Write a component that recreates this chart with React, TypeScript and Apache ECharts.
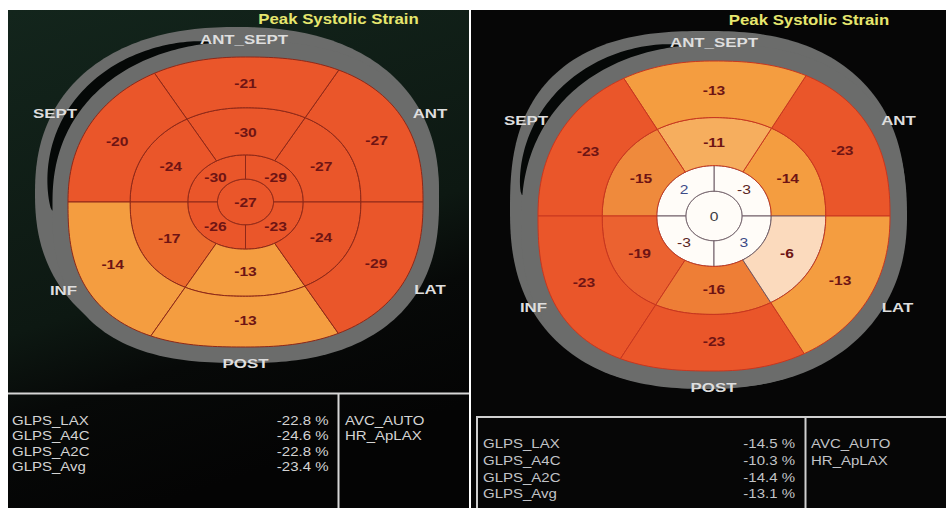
import React, { useEffect, useRef } from "react";
import * as echarts from "echarts";

// ---- data (segment order: basal/mid at 30°,90°,150°,210°,270°,330°; apical at 45°,135°,225°,315°) ----
const leftBasal = [-27, -21, -20, -14, -13, -29];
const leftMid = [-27, -30, -24, -17, -13, -24];
const leftApical = [-29, -30, -26, -23];
const leftApex = [-27];
const rightBasal = [-23, -13, -23, -23, -23, -13];
const rightMid = [-14, -11, -15, -19, -16, -6];
const rightApical = [-3, 2, -3, 3];
const rightApex = [0];

const chartTitle = "Peak Systolic Strain";
const wallLabels = ["ANT_SEPT", "SEPT", "ANT", "INF", "LAT", "POST"];
const glpsNames = ["GLPS_LAX", "GLPS_A4C", "GLPS_A2C", "GLPS_Avg"];
const leftGlps = [-22.8, -24.6, -22.8, -23.4];
const rightGlps = [-14.5, -10.3, -14.4, -13.1];
const sideNotes = ["AVC_AUTO", "HR_ApLAX"];

const FONT = '"Liberation Sans", Arial, sans-serif';

type Shape = { cx: number; cy: number; rx: number; ry: number; nq: number[] };
type Geo = Shape & {
  fr: number[];
  o: Shape;
  base: number;
  luneFrom: number; luneTo: number; lunePeak: number;
  stroke: string; lightStroke: string;
  labelPos: number[][];
};

const geoL: Geo = {
  cx: 245.5, cy: 202, rx: 177.5, ry: 145, nq: [2.45, 2.2, 2.65, 2.4],
  fr: [0.158, 0.325, 0.65, 1],
  o: { cx: 237, cy: 193.5, rx: 202, ry: 166.5, nq: [2.3, 2.3, 2.3, 2.3] },
  base: 16, luneFrom: 100, luneTo: 183, lunePeak: 10,
  stroke: "#8e2818", lightStroke: "#6e5c66",
  labelPos: [[244, 39], [55, 113.5], [430, 113], [63.5, 290.5], [430, 289], [245.5, 363.5]],
};
const geoR: Geo = {
  cx: 714, cy: 216, rx: 176, ry: 155, nq: [2.4, 2.2, 2.6, 2.2],
  fr: [0.16, 0.325, 0.635, 1],
  o: { cx: 708, cy: 210, rx: 198, ry: 179, nq: [2.4, 2.6, 2.4, 2.2] },
  base: 17, luneFrom: 100, luneTo: 173, lunePeak: 10,
  stroke: "#c8361f", lightStroke: "#6e5c66",
  labelPos: [[714, 42], [526, 120.5], [898.5, 120], [533.5, 307.5], [897.5, 307], [713.5, 387.5]],
};
const ringN = [0, 0.2, 0.6, 1];

function rows(apex: number[], apical: number[], mid: number[], basal: number[]) {
  const out: number[][] = [];
  apex.forEach((v, k) => out.push([0, k, v]));
  apical.forEach((v, k) => out.push([1, k, v]));
  mid.forEach((v, k) => out.push([2, k, v]));
  basal.forEach((v, k) => out.push([3, k, v]));
  return out;
}

function nAt(nq: number[], deg: number, f: number): number {
  const a = ((deg % 360) + 360) % 360;
  const q = Math.min(3, Math.floor(a / 90));
  return 2 + (nq[q] - 2) * f;
}
function unit(deg: number, n: number): [number, number] {
  const t = (deg * Math.PI) / 180;
  const c = Math.cos(t), s = Math.sin(t);
  const d = Math.pow(Math.pow(Math.abs(c), n) + Math.pow(Math.abs(s), n), 1 / n);
  return [c / d, s / d];
}
function edge(sh: Shape, frac: number, deg: number, f: number, extra = 0): number[] {
  const [ux, uy] = unit(deg, nAt(sh.nq, deg, f));
  return [sh.cx + (sh.rx * frac + extra) * ux, sh.cy - (sh.ry * frac + extra) * uy];
}

function makeRender(g: Geo) {
  return (_params: any, api: any) => {
    const ring = api.value(0), k = api.value(1), v = api.value(2);
    const count = [1, 4, 6, 6][ring];
    const span = 360 / count;
    const a0 = k * span, a1 = a0 + span;
    const fo = g.fr[ring], no = ringN[ring];
    const fi = ring > 0 ? g.fr[ring - 1] : 0, ni = ring > 0 ? ringN[ring - 1] : 0;
    const steps = Math.max(16, Math.round(span / 1.5));
    const pts: number[][] = [];
    for (let i = 0; i <= steps; i++) pts.push(edge(g, fo, a0 + (span * i) / steps, no));
    if (ring > 0) for (let i = steps; i >= 0; i--) pts.push(edge(g, fi, a0 + (span * i) / steps, ni));
    const light = v > -9;
    const midA = (a0 + a1) / 2;
    const lf = fi + (fo - fi) * 0.48;
    const lp = ring === 0 ? [g.cx, g.cy] : edge(g, lf, midA, (no + ni) / 2);
    const fill = v > 0 ? "#3d4a86" : v === 0 ? "#3c3c42" : v > -5 ? "#5a2424" : "#6e1414";
    const weight = v > -5 ? "normal" : "bold";
    return {
      type: "group",
      children: [
        {
          type: "polygon",
          shape: { points: pts },
          style: { fill: api.visual("color"), stroke: light ? g.lightStroke : g.stroke, lineWidth: 1 },
        },
        {
          type: "text",
          x: lp[0], y: lp[1], scaleX: 1.2, z2: 10,
          style: { text: String(v), fill, font: `${weight} 13px ${FONT}`, align: "center", verticalAlign: "middle" },
        },
      ],
    };
  };
}

function frame(g: Geo): any[] {
  const outer: number[][] = [];
  const band: number[][] = [];
  for (let a = 0; a < 360; a += 1.5) {
    outer.push(edge(g.o, 1, a, 1));
    band.push(edge(g, 1, a, 1, g.base));
  }
  const lune: number[][] = [];
  const span = g.luneTo - g.luneFrom;
  for (let a = g.luneFrom; a <= g.luneTo; a += 1) {
    const t = (a - g.luneFrom) / span;
    lune.push(edge(g, 1, a, 1, g.base + g.lunePeak * Math.pow(Math.sin(Math.PI * t), 0.6)));
  }
  for (let a = g.luneTo; a >= g.luneFrom; a -= 1) lune.push(edge(g, 1, a, 1, g.base - 0.5));
  return [
    { type: "polygon", z: 1, shape: { points: outer }, style: { fill: "#6b6c6b" } },
    { type: "polygon", z: 1, shape: { points: band }, style: { fill: "#6b6c6b" } },
    { type: "polygon", z: 1, shape: { points: lune }, style: { fill: "#050807" } },
  ];
}

function txt(x: number, y: number, text: string, size: number, color: string, weight = "normal", align = "left", sx = 1.2): any {
  return {
    type: "text", x, y, scaleX: sx, z: 20,
    style: { text, fill: color, font: `${weight} ${size}px ${FONT}`, align, verticalAlign: "middle" },
  };
}
function hline(x1: number, x2: number, y: number, c: string): any {
  return { type: "line", z: 5, shape: { x1, y1: y, x2, y2: y }, style: { stroke: c, lineWidth: 2 } };
}
function vline(x: number, y1: number, y2: number, c: string): any {
  return { type: "line", z: 5, shape: { x1: x, y1, x2: x, y2 }, style: { stroke: c, lineWidth: 2 } };
}

export default function App() {
  const ref = useRef<HTMLDivElement>(null);
  useEffect(() => {
    if (!ref.current) return;
    const chart = echarts.init(ref.current, undefined, { renderer: "svg" });
    const graphic: any[] = [
      { type: "rect", z: 0, shape: { x: 0, y: 0, width: 946, height: 508 }, style: { fill: "#ffffff" } },
      {
        type: "rect", z: 0, shape: { x: 8, y: 10, width: 461, height: 498 },
        style: {
          fill: new echarts.graphic.LinearGradient(0, 0, 0.3, 1, [
            { offset: 0, color: "#13251c" },
            { offset: 0.6, color: "#0d1812" },
            { offset: 0.76, color: "#070908" },
            { offset: 1, color: "#040404" },
          ]),
        },
      },
      { type: "rect", z: 0, shape: { x: 471, y: 10, width: 475, height: 498 }, style: { fill: "#060606" } },
      ...frame(geoL),
      ...frame(geoR),
      hline(8, 469, 393.5, "#d6d6d6"),
      vline(338.5, 393, 508, "#d6d6d6"),
      hline(476, 946, 417, "#cfcfcf"),
      vline(477, 417, 508, "#cfcfcf"),
      vline(805.5, 417, 508, "#cfcfcf"),
      txt(338.5, 19, chartTitle, 14, "#e6e66e", "bold", "center"),
      txt(809, 20, chartTitle, 14, "#e6e66e", "bold", "center"),
    ];
    wallLabels.forEach((w, i) => {
      graphic.push(txt(geoL.labelPos[i][0], geoL.labelPos[i][1], w, 13.5, "#dedede", "bold", "center", 1.25));
      graphic.push(txt(geoR.labelPos[i][0], geoR.labelPos[i][1], w, 13.5, "#dedede", "bold", "center", 1.25));
    });
    const lys = [420.5, 435.7, 451.7, 467.3];
    const rys = [444, 461, 478, 494];
    glpsNames.forEach((nm, i) => {
      graphic.push(txt(12, lys[i], nm, 12.5, "#d4d4d4"));
      graphic.push(txt(328.5, lys[i], `${leftGlps[i].toFixed(1)} %`, 12.5, "#d4d4d4", "normal", "right"));
      graphic.push(txt(483, rys[i], nm, 12.5, "#c2c4c8"));
      graphic.push(txt(795, rys[i], `${rightGlps[i].toFixed(1)} %`, 12.5, "#c2c4c8", "normal", "right"));
    });
    sideNotes.forEach((s, i) => {
      graphic.push(txt(345, lys[i], s, 12.5, "#d4d4d4"));
      graphic.push(txt(811, rys[i], s, 12.5, "#c2c4c8"));
    });

    chart.setOption({
      animation: false,
      backgroundColor: "#ffffff",
      graphic,
      visualMap: {
        type: "piecewise",
        show: false,
        dimension: 2,
        seriesIndex: [0, 1],
        pieces: [
          { lt: -19.5, color: "#ea562a" },
          { gte: -19.5, lt: -18, color: "#eb6230" },
          { gte: -18, lt: -16.5, color: "#ec6b2d" },
          { gte: -16.5, lt: -15.5, color: "#ee7e36" },
          { gte: -15.5, lt: -14.5, color: "#ef8a3c" },
          { gte: -14.5, lt: -12.5, color: "#f49d40" },
          { gte: -12.5, lt: -9, color: "#f6ae5e" },
          { gte: -9, lt: -4.5, color: "#fbdabd" },
          { gte: -4.5, color: "#fffcf8" },
        ],
      },
      series: [
        {
          type: "custom",
          coordinateSystem: "none",
          silent: true,
          z: 3,
          renderItem: makeRender(geoL),
          data: rows(leftApex, leftApical, leftMid, leftBasal),
        },
        {
          type: "custom",
          coordinateSystem: "none",
          silent: true,
          z: 3,
          renderItem: makeRender(geoR),
          data: rows(rightApex, rightApical, rightMid, rightBasal),
        },
      ],
    });
    return () => chart.dispose();
  }, []);
  return <div ref={ref} style={{ position: "fixed", left: 0, top: 0, width: 946, height: 508 }} />;
}
